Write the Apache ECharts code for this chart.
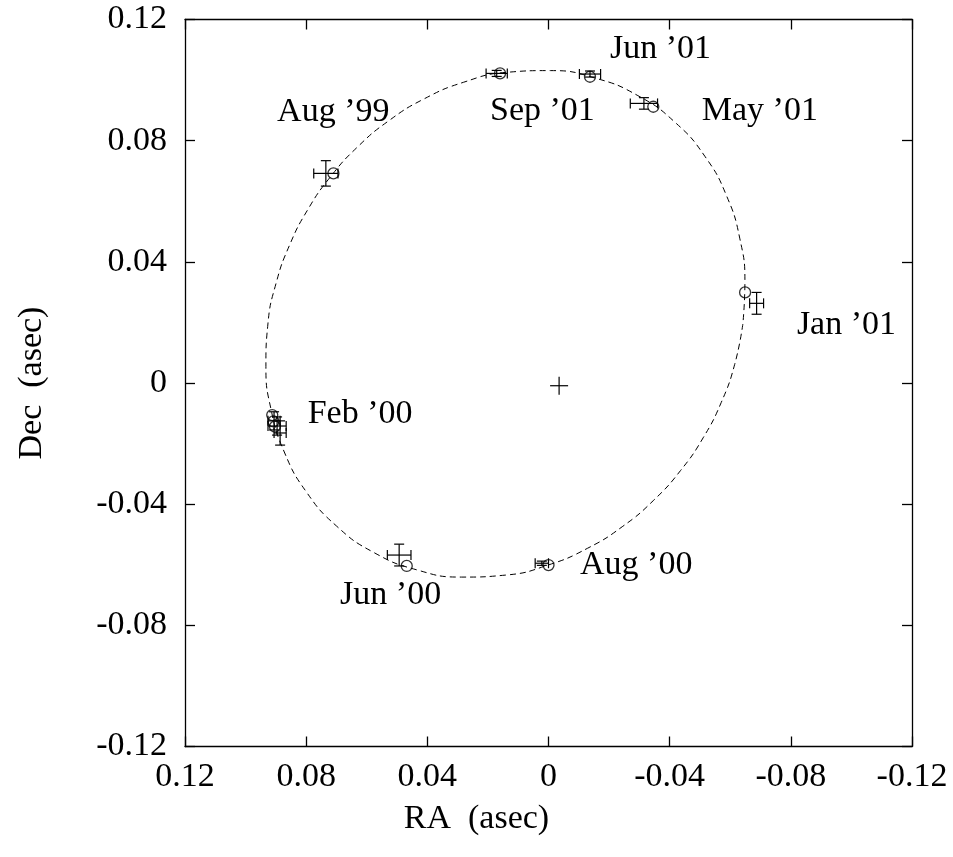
<!DOCTYPE html>
<html>
<head>
<meta charset="utf-8">
<script src="https://cdn.jsdelivr.net/npm/echarts@6/dist/echarts.min.js"></script>
<style>
  html, body { margin: 0; padding: 0; background: #fff; }
  #chart { width: 953px; height: 857px; }
</style>
</head>
<body>
<div id="chart"></div>
<script>
// fitted orbit, every ~10 deg round the curve (RA, Dec in asec)
var orbitRA = [-0.06416, -0.06147, -0.05704, -0.05105, -0.04361, -0.03476, -0.02453, -0.01291, 0.00001, 0.01403,
  0.02876, 0.04357, 0.05760, 0.06999, 0.08000, 0.08722, 0.09159, 0.09329, 0.09263, 0.08995,
  0.08549, 0.07946, 0.07196, 0.06306, 0.05276, 0.04108, 0.02810, 0.01403, -0.00072, -0.01551,
  -0.02950, -0.04181, -0.05174, -0.05888, -0.06318, -0.06484, -0.06416];
var orbitDec = [0.01948, 0.00616, -0.00639, -0.01810, -0.02888, -0.03867, -0.04731, -0.05455, -0.06006, -0.06340,
  -0.06407, -0.06166, -0.05599, -0.04721, -0.03587, -0.02278, -0.00875, 0.00550, 0.01948, 0.03287,
  0.04549, 0.05725, 0.06809, 0.07791, 0.08655, 0.09379, 0.09926, 0.10254, 0.10313, 0.10063,
  0.09487, 0.08603, 0.07467, 0.06157, 0.04758, 0.03338, 0.01948];

// measured positions with errors
var obsRA     = [0.0735, 0.0171, -0.0137, -0.0315, -0.0687, 0.0906, 0.0896, 0.0886, 0.0493, 0.0022];
var obsDec    = [0.0692, 0.1022, 0.1020, 0.0923, 0.0263, -0.0125, -0.0142, -0.0165, -0.0568, -0.0595];
var obsRAErr  = [0.0040, 0.0035, 0.0035, 0.0045, 0.0023, 0.0020, 0.0030, 0.0020, 0.0039, 0.0022];
var obsDecErr = [0.0042, 0.0010, 0.0010, 0.0019, 0.0036, 0.0030, 0.0030, 0.0040, 0.0036, 0.0007];

// model positions on the orbit
var fitRA  = [0.0710, 0.0160, -0.0137, -0.0346, -0.0649, 0.0912, 0.0908, 0.0903, 0.0468, 0.0000];
var fitDec = [0.0692, 0.1022, 0.1011, 0.0912, 0.0299, -0.0106, -0.0127, -0.0144, -0.0604, -0.0601];

// central star
var centreRA = [-0.0035];
var centreDec = [-0.0009];

// epoch labels (left edge, middle)
var labelText = ['Aug \u201999', 'Sep \u201901', 'Jun \u201901', 'May \u201901', 'Jan \u201901', 'Feb \u201900', 'Jun \u201900', 'Aug \u201900'];
var labelRA   = [0.0896, 0.0193, -0.0203, -0.0506, -0.0820, 0.0795, 0.0688, -0.0104];
var labelDec  = [0.0895, 0.0897, 0.1103, 0.0898, 0.0190, -0.0102, -0.0700, -0.0601];

var tickValues = [0.12, 0.08, 0.04, 0, -0.04, -0.08, -0.12];
var tickLabels = ['0.12', '0.08', '0.04', '0', '-0.04', '-0.08', '-0.12'];

var FONT = '"Liberation Serif", "Times New Roman", serif';
var FS = 34;

function tickText(v) {
	for (var i = 0; i < tickValues.length; i++) {
		if (Math.abs(tickValues[i] - v) < 1e-6) return tickLabels[i];
	}
	return '';
}

function zip() {
	var cols = Array.prototype.slice.call(arguments);
	return cols[0].map(function (_, i) {
		return cols.map(function (c) { return c[i]; });
	});
}

function axisBase(pos, show) {
	return {
		type: 'value',
		position: pos,
		min: -0.12,
		max: 0.12,
		interval: 0.04,
		axisLine: { show: true, onZero: false, lineStyle: { color: '#000', width: 1.3 } },
		axisTick: { show: true, inside: true, length: 10, lineStyle: { color: '#000', width: 1.3 } },
		axisLabel: {
			show: show, color: '#000', fontFamily: FONT, fontSize: FS, margin: 14,
			formatter: tickText
		},
		splitLine: { show: false }
	};
}

var xBottom = axisBase('bottom', true); xBottom.inverse = true;
var xTop = axisBase('top', false); xTop.inverse = true;
var yLeft = axisBase('left', true); yLeft.axisLabel.margin = 18;
var yRight = axisBase('right', false);

var chart = echarts.init(document.getElementById('chart'));

var stroke = { stroke: '#000', lineWidth: 1.2 };

chart.setOption({
	animation: false,
	backgroundColor: '#fff',
	grid: { left: 185, top: 19.5, right: 41, bottom: 110.5 },
	xAxis: [xBottom, xTop],
	yAxis: [yLeft, yRight],
	graphic: [
		{
			type: 'text', left: 'center', top: 802,
			style: { text: 'RA  (asec)', fontFamily: FONT, fontSize: FS, fill: '#000' }
		},
		{
			type: 'text', x: 32, y: 383, rotation: Math.PI / 2,
			style: {
				text: 'Dec  (asec)', fontFamily: FONT, fontSize: FS, fill: '#000',
				align: 'center', verticalAlign: 'middle'
			}
		}
	],
	series: [
		{
			name: 'orbit',
			type: 'line',
			data: zip(orbitRA, orbitDec),
			smooth: 0.5,
			showSymbol: false,
			symbol: 'none',
			lineStyle: { color: '#000', width: 1, type: [6, 4] },
			silent: true
		},
		{
			name: 'observed',
			type: 'custom',
			data: zip(obsRA, obsDec, obsRAErr, obsDecErr),
			encode: { x: 0, y: 1 },
			clip: false,
			renderItem: function (params, api) {
				var x = api.value(0), y = api.value(1), ex = api.value(2), ey = api.value(3);
				var a = api.coord([x - ex, y]), b = api.coord([x + ex, y]);
				var c = api.coord([x, y - ey]), d = api.coord([x, y + ey]);
				var cap = 5;
				var seg = function (x1, y1, x2, y2) {
					return { type: 'line', shape: { x1: x1, y1: y1, x2: x2, y2: y2 }, style: stroke };
				};
				return {
					type: 'group',
					children: [
						seg(a[0], a[1], b[0], b[1]),
						seg(a[0], a[1] - cap, a[0], a[1] + cap),
						seg(b[0], b[1] - cap, b[0], b[1] + cap),
						seg(c[0], c[1], d[0], d[1]),
						seg(c[0] - cap, c[1], c[0] + cap, c[1]),
						seg(d[0] - cap, d[1], d[0] + cap, d[1])
					]
				};
			}
		},
		{
			name: 'model',
			type: 'scatter',
			data: zip(fitRA, fitDec),
			symbol: 'circle',
			symbolSize: 11,
			itemStyle: { color: 'rgba(0,0,0,0)', borderColor: '#000', borderWidth: 1.3 },
			silent: true
		},
		{
			name: 'centre',
			type: 'custom',
			data: zip(centreRA, centreDec),
			encode: { x: 0, y: 1 },
			renderItem: function (params, api) {
				var p = api.coord([api.value(0), api.value(1)]);
				var r = 9;
				return {
					type: 'group',
					children: [
						{ type: 'line', shape: { x1: p[0] - r, y1: p[1], x2: p[0] + r, y2: p[1] }, style: stroke },
						{ type: 'line', shape: { x1: p[0], y1: p[1] - r, x2: p[0], y2: p[1] + r }, style: stroke }
					]
				};
			}
		},
		{
			name: 'labels',
			type: 'custom',
			data: zip(labelRA, labelDec),
			encode: { x: 0, y: 1 },
			clip: false,
			silent: true,
			renderItem: function (params, api) {
				var p = api.coord([api.value(0), api.value(1)]);
				return {
					type: 'text',
					x: p[0], y: p[1],
					style: {
						text: labelText[params.dataIndex],
						fontFamily: FONT, fontSize: FS, fill: '#000',
						align: 'left', verticalAlign: 'middle'
					}
				};
			}
		}
	]
});
</script>
</body>
</html>
